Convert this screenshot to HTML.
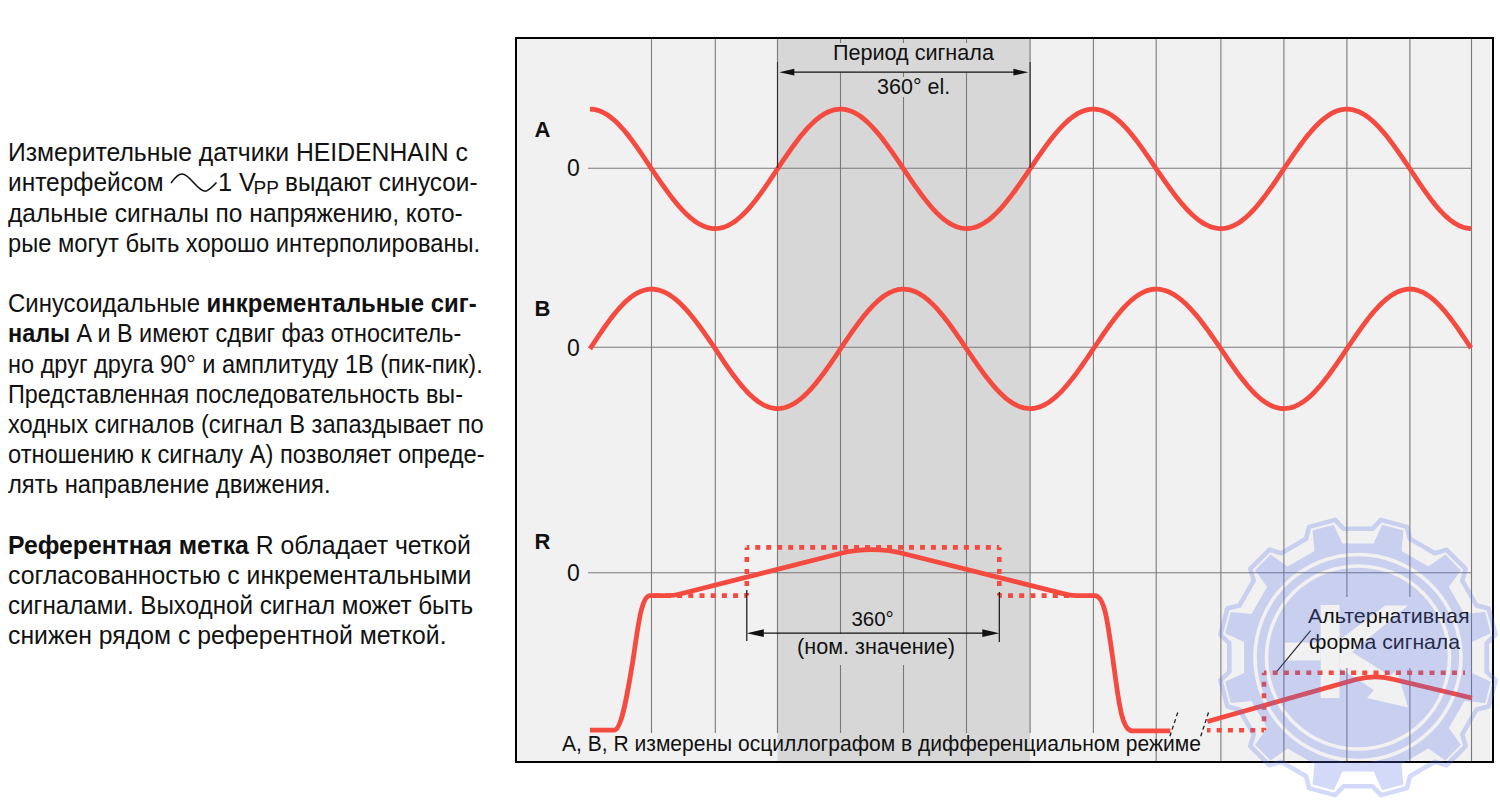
<!DOCTYPE html>
<html><head><meta charset="utf-8"><style>
html,body{margin:0;padding:0;background:#fff;width:1500px;height:800px;overflow:hidden}
svg{position:absolute;left:0;top:0;font-family:"Liberation Sans",sans-serif}
text{fill:#111}
</style></head><body>
<svg width="1500" height="800" viewBox="0 0 1500 800">
<rect x="515" y="37" width="979" height="726" fill="#000"/>
<rect x="517" y="39" width="975" height="722" fill="#f1f1f1"/>
<rect x="777.5" y="39" width="252.6" height="722" fill="#d7d7d7"/>
<line x1="651.5" y1="39" x2="651.5" y2="733" stroke="#7a7a7a" stroke-width="1.1"/>
<line x1="715.3" y1="39" x2="715.3" y2="733" stroke="#7a7a7a" stroke-width="1.1"/>
<line x1="777.5" y1="39" x2="777.5" y2="733" stroke="#7a7a7a" stroke-width="1.1"/>
<line x1="840.5" y1="39" x2="840.5" y2="43" stroke="#7a7a7a" stroke-width="1.1"/>
<line x1="840.5" y1="72" x2="840.5" y2="634" stroke="#7a7a7a" stroke-width="1.1"/>
<line x1="840.5" y1="665" x2="840.5" y2="733" stroke="#7a7a7a" stroke-width="1.1"/>
<line x1="903.5" y1="39" x2="903.5" y2="43" stroke="#7a7a7a" stroke-width="1.1"/>
<line x1="903.5" y1="72" x2="903.5" y2="77" stroke="#7a7a7a" stroke-width="1.1"/>
<line x1="903.5" y1="97" x2="903.5" y2="634" stroke="#7a7a7a" stroke-width="1.1"/>
<line x1="903.5" y1="665" x2="903.5" y2="733" stroke="#7a7a7a" stroke-width="1.1"/>
<line x1="966.5" y1="39" x2="966.5" y2="43" stroke="#7a7a7a" stroke-width="1.1"/>
<line x1="966.5" y1="72" x2="966.5" y2="733" stroke="#7a7a7a" stroke-width="1.1"/>
<line x1="1030.1" y1="39" x2="1030.1" y2="733" stroke="#7a7a7a" stroke-width="1.1"/>
<line x1="1093.4" y1="39" x2="1093.4" y2="733" stroke="#7a7a7a" stroke-width="1.1"/>
<line x1="1156.2" y1="39" x2="1156.2" y2="761" stroke="#7a7a7a" stroke-width="1.1"/>
<line x1="1220.9" y1="39" x2="1220.9" y2="761" stroke="#7a7a7a" stroke-width="1.1"/>
<line x1="1283.9" y1="39" x2="1283.9" y2="761" stroke="#7a7a7a" stroke-width="1.1"/>
<line x1="1346.9" y1="39" x2="1346.9" y2="597" stroke="#7a7a7a" stroke-width="1.1"/>
<line x1="1346.9" y1="668" x2="1346.9" y2="761" stroke="#7a7a7a" stroke-width="1.1"/>
<line x1="1409.9" y1="39" x2="1409.9" y2="597" stroke="#7a7a7a" stroke-width="1.1"/>
<line x1="1409.9" y1="668" x2="1409.9" y2="761" stroke="#7a7a7a" stroke-width="1.1"/>
<line x1="1471.5" y1="39" x2="1471.5" y2="761" stroke="#7a7a7a" stroke-width="1.1"/>
<line x1="588" y1="168.3" x2="1471.5" y2="168.3" stroke="#7a7a7a" stroke-width="1.1"/>
<line x1="588" y1="347.2" x2="1471.5" y2="347.2" stroke="#7a7a7a" stroke-width="1.1"/>
<line x1="588" y1="572.8" x2="1471.5" y2="572.8" stroke="#7a7a7a" stroke-width="1.1"/>
<path d="M590.0,109.15 L592.0,109.23 L594.0,109.46 L596.0,109.85 L598.0,110.39 L600.0,111.09 L602.0,111.93 L604.0,112.93 L606.0,114.07 L608.0,115.35 L610.0,116.77 L612.0,118.33 L614.0,120.02 L616.0,121.84 L618.0,123.78 L620.0,125.83 L622.0,128.00 L624.0,130.28 L626.0,132.66 L628.0,135.13 L630.0,137.69 L632.0,140.33 L634.0,143.05 L636.0,145.83 L638.0,148.67 L640.0,151.57 L642.0,154.51 L644.0,157.48 L646.0,160.49 L648.0,163.52 L650.0,166.56 L652.0,169.58 L654.0,172.52 L656.0,175.45 L658.0,178.36 L660.0,181.25 L662.0,184.11 L664.0,186.93 L666.0,189.71 L668.0,192.44 L670.0,195.11 L672.0,197.72 L674.0,200.26 L676.0,202.72 L678.0,205.10 L680.0,207.39 L682.0,209.58 L684.0,211.68 L686.0,213.68 L688.0,215.56 L690.0,217.34 L692.0,218.99 L694.0,220.53 L696.0,221.94 L698.0,223.22 L700.0,224.36 L702.0,225.38 L704.0,226.25 L706.0,226.99 L708.0,227.59 L710.0,228.04 L712.0,228.35 L714.0,228.52 L716.0,228.54 L718.0,228.41 L720.0,228.13 L722.0,227.70 L724.0,227.11 L726.0,226.38 L728.0,225.51 L730.0,224.48 L732.0,223.32 L734.0,222.02 L736.0,220.58 L738.0,219.01 L740.0,217.31 L742.0,215.49 L744.0,213.54 L746.0,211.49 L748.0,209.32 L750.0,207.06 L752.0,204.69 L754.0,202.24 L756.0,199.70 L758.0,197.08 L760.0,194.38 L762.0,191.63 L764.0,188.81 L766.0,185.95 L768.0,183.04 L770.0,180.09 L772.0,177.12 L774.0,174.12 L776.0,171.11 L778.0,168.11 L780.0,165.13 L782.0,162.17 L784.0,159.22 L786.0,156.29 L788.0,153.40 L790.0,150.54 L792.0,147.73 L794.0,144.98 L796.0,142.28 L798.0,139.65 L800.0,137.09 L802.0,134.61 L804.0,132.21 L806.0,129.91 L808.0,127.70 L810.0,125.60 L812.0,123.60 L814.0,121.71 L816.0,119.95 L818.0,118.30 L820.0,116.78 L822.0,115.39 L824.0,114.13 L826.0,113.01 L828.0,112.03 L830.0,111.18 L832.0,110.49 L834.0,109.93 L836.0,109.53 L838.0,109.27 L840.0,109.15 L842.0,109.19 L844.0,109.38 L846.0,109.71 L848.0,110.19 L850.0,110.82 L852.0,111.59 L854.0,112.50 L856.0,113.55 L858.0,114.74 L860.0,116.07 L862.0,117.52 L864.0,119.11 L866.0,120.82 L868.0,122.64 L870.0,124.58 L872.0,126.64 L874.0,128.79 L876.0,131.05 L878.0,133.40 L880.0,135.84 L882.0,138.36 L884.0,140.95 L886.0,143.62 L888.0,146.35 L890.0,149.13 L892.0,151.97 L894.0,154.84 L896.0,157.75 L898.0,160.69 L900.0,163.65 L902.0,166.62 L904.0,169.59 L906.0,172.57 L908.0,175.53 L910.0,178.48 L912.0,181.41 L914.0,184.30 L916.0,187.16 L918.0,189.97 L920.0,192.72 L922.0,195.42 L924.0,198.05 L926.0,200.61 L928.0,203.09 L930.0,205.49 L932.0,207.79 L934.0,210.00 L936.0,212.10 L938.0,214.10 L940.0,215.99 L942.0,217.75 L944.0,219.40 L946.0,220.92 L948.0,222.31 L950.0,223.57 L952.0,224.69 L954.0,225.67 L956.0,226.52 L958.0,227.21 L960.0,227.77 L962.0,228.17 L964.0,228.43 L966.0,228.55 L968.0,228.51 L970.0,228.33 L972.0,228.00 L974.0,227.53 L976.0,226.91 L978.0,226.16 L980.0,225.26 L982.0,224.23 L984.0,223.06 L986.0,221.76 L988.0,220.33 L990.0,218.77 L992.0,217.10 L994.0,215.30 L996.0,213.39 L998.0,211.38 L1000.0,209.26 L1002.0,207.04 L1004.0,204.72 L1006.0,202.32 L1008.0,199.84 L1010.0,197.28 L1012.0,194.66 L1014.0,191.97 L1016.0,189.22 L1018.0,186.43 L1020.0,183.59 L1022.0,180.71 L1024.0,177.81 L1026.0,174.89 L1028.0,171.95 L1030.0,169.00 L1032.0,166.04 L1034.0,163.08 L1036.0,160.14 L1038.0,157.22 L1040.0,154.33 L1042.0,151.48 L1044.0,148.66 L1046.0,145.90 L1048.0,143.20 L1050.0,140.55 L1052.0,137.98 L1054.0,135.48 L1056.0,133.07 L1058.0,130.74 L1060.0,128.51 L1062.0,126.37 L1064.0,124.35 L1066.0,122.43 L1068.0,120.62 L1070.0,118.94 L1072.0,117.37 L1074.0,115.94 L1076.0,114.63 L1078.0,113.46 L1080.0,112.42 L1082.0,111.52 L1084.0,110.77 L1086.0,110.15 L1088.0,109.69 L1090.0,109.36 L1092.0,109.19 L1094.0,109.16 L1096.0,109.28 L1098.0,109.54 L1100.0,109.96 L1102.0,110.53 L1104.0,111.24 L1106.0,112.09 L1108.0,113.09 L1110.0,114.22 L1112.0,115.50 L1114.0,116.90 L1116.0,118.44 L1118.0,120.10 L1120.0,121.88 L1122.0,123.79 L1124.0,125.80 L1126.0,127.92 L1128.0,130.15 L1130.0,132.47 L1132.0,134.88 L1134.0,137.38 L1136.0,139.95 L1138.0,142.60 L1140.0,145.32 L1142.0,148.09 L1144.0,150.91 L1146.0,153.78 L1148.0,156.69 L1150.0,159.63 L1152.0,162.59 L1154.0,165.57 L1156.0,168.55 L1158.0,171.46 L1160.0,174.35 L1162.0,177.23 L1164.0,180.09 L1166.0,182.92 L1168.0,185.72 L1170.0,188.48 L1172.0,191.19 L1174.0,193.85 L1176.0,196.46 L1178.0,198.99 L1180.0,201.46 L1182.0,203.85 L1184.0,206.15 L1186.0,208.37 L1188.0,210.50 L1190.0,212.52 L1192.0,214.45 L1194.0,216.26 L1196.0,217.97 L1198.0,219.56 L1200.0,221.03 L1202.0,222.37 L1204.0,223.59 L1206.0,224.69 L1208.0,225.65 L1210.0,226.47 L1212.0,227.16 L1214.0,227.71 L1216.0,228.13 L1218.0,228.40 L1220.0,228.54 L1222.0,228.53 L1224.0,228.37 L1226.0,228.07 L1228.0,227.62 L1230.0,227.02 L1232.0,226.28 L1234.0,225.39 L1236.0,224.37 L1238.0,223.21 L1240.0,221.91 L1242.0,220.48 L1244.0,218.92 L1246.0,217.24 L1248.0,215.43 L1250.0,213.51 L1252.0,211.48 L1254.0,209.35 L1256.0,207.11 L1258.0,204.78 L1260.0,202.36 L1262.0,199.85 L1264.0,197.27 L1266.0,194.62 L1268.0,191.90 L1270.0,189.13 L1272.0,186.30 L1274.0,183.44 L1276.0,180.53 L1278.0,177.60 L1280.0,174.65 L1282.0,171.68 L1284.0,168.70 L1286.0,165.73 L1288.0,162.76 L1290.0,159.81 L1292.0,156.87 L1294.0,153.97 L1296.0,151.11 L1298.0,148.29 L1300.0,145.52 L1302.0,142.81 L1304.0,140.17 L1306.0,137.59 L1308.0,135.10 L1310.0,132.68 L1312.0,130.36 L1314.0,128.13 L1316.0,126.01 L1318.0,123.99 L1320.0,122.08 L1322.0,120.29 L1324.0,118.62 L1326.0,117.07 L1328.0,115.66 L1330.0,114.37 L1332.0,113.22 L1334.0,112.21 L1336.0,111.34 L1338.0,110.61 L1340.0,110.03 L1342.0,109.59 L1344.0,109.31 L1346.0,109.17 L1348.0,109.17 L1350.0,109.33 L1352.0,109.63 L1354.0,110.08 L1356.0,110.68 L1358.0,111.42 L1360.0,112.31 L1362.0,113.33 L1364.0,114.49 L1366.0,115.79 L1368.0,117.22 L1370.0,118.78 L1372.0,120.46 L1374.0,122.27 L1376.0,124.19 L1378.0,126.22 L1380.0,128.35 L1382.0,130.59 L1384.0,132.92 L1386.0,135.34 L1388.0,137.85 L1390.0,140.43 L1392.0,143.08 L1394.0,145.80 L1396.0,148.57 L1398.0,151.40 L1400.0,154.26 L1402.0,157.17 L1404.0,160.10 L1406.0,163.05 L1408.0,166.02 L1410.0,169.00 L1412.0,172.05 L1414.0,175.08 L1416.0,178.10 L1418.0,181.09 L1420.0,184.06 L1422.0,186.98 L1424.0,189.86 L1426.0,192.68 L1428.0,195.44 L1430.0,198.13 L1432.0,200.74 L1434.0,203.27 L1436.0,205.71 L1438.0,208.06 L1440.0,210.30 L1442.0,212.44 L1444.0,214.46 L1446.0,216.37 L1448.0,218.15 L1450.0,219.80 L1452.0,221.32 L1454.0,222.70 L1456.0,223.95 L1458.0,225.05 L1460.0,226.00 L1462.0,226.81 L1464.0,227.46 L1466.0,227.96 L1468.0,228.31 L1470.0,228.51 L1471.0,228.55" fill="none" stroke="#f44a40" stroke-width="4.8"/>
<path d="M590.0,348.85 L592.0,345.80 L594.0,342.76 L596.0,339.74 L598.0,336.74 L600.0,333.77 L602.0,330.84 L604.0,327.95 L606.0,325.13 L608.0,322.36 L610.0,319.66 L612.0,317.04 L614.0,314.50 L616.0,312.05 L618.0,309.70 L620.0,307.45 L622.0,305.31 L624.0,303.28 L626.0,301.37 L628.0,299.58 L630.0,297.93 L632.0,296.40 L634.0,295.01 L636.0,293.77 L638.0,292.66 L640.0,291.71 L642.0,290.90 L644.0,290.24 L646.0,289.74 L648.0,289.39 L650.0,289.19 L652.0,289.15 L654.0,289.26 L656.0,289.52 L658.0,289.91 L660.0,290.45 L662.0,291.13 L664.0,291.95 L666.0,292.91 L668.0,294.01 L670.0,295.24 L672.0,296.59 L674.0,298.08 L676.0,299.69 L678.0,301.41 L680.0,303.25 L682.0,305.21 L684.0,307.26 L686.0,309.42 L688.0,311.68 L690.0,314.02 L692.0,316.45 L694.0,318.96 L696.0,321.54 L698.0,324.18 L700.0,326.89 L702.0,329.65 L704.0,332.45 L706.0,335.30 L708.0,338.18 L710.0,341.08 L712.0,344.00 L714.0,346.94 L716.0,349.91 L718.0,352.92 L720.0,355.92 L722.0,358.90 L724.0,361.86 L726.0,364.79 L728.0,367.67 L730.0,370.51 L732.0,373.29 L734.0,376.01 L736.0,378.66 L738.0,381.23 L740.0,383.72 L742.0,386.12 L744.0,388.43 L746.0,390.64 L748.0,392.74 L750.0,394.72 L752.0,396.59 L754.0,398.34 L756.0,399.96 L758.0,401.46 L760.0,402.81 L762.0,404.03 L764.0,405.11 L766.0,406.05 L768.0,406.84 L770.0,407.48 L772.0,407.98 L774.0,408.32 L776.0,408.51 L778.0,408.55 L780.0,408.43 L782.0,408.17 L784.0,407.77 L786.0,407.21 L788.0,406.52 L790.0,405.67 L792.0,404.69 L794.0,403.57 L796.0,402.31 L798.0,400.92 L800.0,399.40 L802.0,397.75 L804.0,395.99 L806.0,394.10 L808.0,392.10 L810.0,390.00 L812.0,387.79 L814.0,385.49 L816.0,383.09 L818.0,380.61 L820.0,378.05 L822.0,375.42 L824.0,372.72 L826.0,369.97 L828.0,367.16 L830.0,364.30 L832.0,361.41 L834.0,358.48 L836.0,355.53 L838.0,352.57 L840.0,349.59 L842.0,346.62 L844.0,343.65 L846.0,340.69 L848.0,337.75 L850.0,334.84 L852.0,331.97 L854.0,329.13 L856.0,326.35 L858.0,323.62 L860.0,320.95 L862.0,318.36 L864.0,315.84 L866.0,313.40 L868.0,311.05 L870.0,308.79 L872.0,306.64 L874.0,304.58 L876.0,302.64 L878.0,300.82 L880.0,299.11 L882.0,297.52 L884.0,296.07 L886.0,294.74 L888.0,293.55 L890.0,292.50 L892.0,291.59 L894.0,290.82 L896.0,290.19 L898.0,289.71 L900.0,289.38 L902.0,289.19 L904.0,289.15 L906.0,289.27 L908.0,289.53 L910.0,289.93 L912.0,290.49 L914.0,291.18 L916.0,292.03 L918.0,293.01 L920.0,294.13 L922.0,295.39 L924.0,296.78 L926.0,298.30 L928.0,299.95 L930.0,301.71 L932.0,303.60 L934.0,305.60 L936.0,307.70 L938.0,309.91 L940.0,312.21 L942.0,314.61 L944.0,317.09 L946.0,319.65 L948.0,322.28 L950.0,324.98 L952.0,327.73 L954.0,330.54 L956.0,333.40 L958.0,336.29 L960.0,339.22 L962.0,342.17 L964.0,345.13 L966.0,348.11 L968.0,351.06 L970.0,354.00 L972.0,356.93 L974.0,359.85 L976.0,362.73 L978.0,365.58 L980.0,368.39 L982.0,371.15 L984.0,373.86 L986.0,376.50 L988.0,379.08 L990.0,381.59 L992.0,384.01 L994.0,386.35 L996.0,388.60 L998.0,390.75 L1000.0,392.80 L1002.0,394.74 L1004.0,396.57 L1006.0,398.28 L1008.0,399.88 L1010.0,401.34 L1012.0,402.68 L1014.0,403.89 L1016.0,404.97 L1018.0,405.90 L1020.0,406.70 L1022.0,407.36 L1024.0,407.87 L1026.0,408.24 L1028.0,408.47 L1030.0,408.55 L1032.0,408.48 L1034.0,408.27 L1036.0,407.91 L1038.0,407.41 L1040.0,406.76 L1042.0,405.97 L1044.0,405.03 L1046.0,403.96 L1048.0,402.76 L1050.0,401.42 L1052.0,399.95 L1054.0,398.35 L1056.0,396.64 L1058.0,394.80 L1060.0,392.86 L1062.0,390.80 L1064.0,388.64 L1066.0,386.39 L1068.0,384.04 L1070.0,381.60 L1072.0,379.08 L1074.0,376.49 L1076.0,373.83 L1078.0,371.11 L1080.0,368.34 L1082.0,365.51 L1084.0,362.65 L1086.0,359.75 L1088.0,356.83 L1090.0,353.88 L1092.0,350.92 L1094.0,347.95 L1096.0,344.97 L1098.0,342.00 L1100.0,339.04 L1102.0,336.11 L1104.0,333.21 L1106.0,330.34 L1108.0,327.53 L1110.0,324.77 L1112.0,322.07 L1114.0,319.43 L1116.0,316.87 L1118.0,314.39 L1120.0,312.00 L1122.0,309.69 L1124.0,307.49 L1126.0,305.39 L1128.0,303.40 L1130.0,301.52 L1132.0,299.76 L1134.0,298.12 L1136.0,296.61 L1138.0,295.23 L1140.0,293.98 L1142.0,292.88 L1144.0,291.91 L1146.0,291.08 L1148.0,290.40 L1150.0,289.87 L1152.0,289.48 L1154.0,289.24 L1156.0,289.15 L1158.0,289.21 L1160.0,289.40 L1162.0,289.74 L1164.0,290.22 L1166.0,290.83 L1168.0,291.58 L1170.0,292.47 L1172.0,293.49 L1174.0,294.64 L1176.0,295.92 L1178.0,297.32 L1180.0,298.84 L1182.0,300.48 L1184.0,302.24 L1186.0,304.10 L1188.0,306.08 L1190.0,308.15 L1192.0,310.32 L1194.0,312.57 L1196.0,314.92 L1198.0,317.34 L1200.0,319.84 L1202.0,322.41 L1204.0,325.04 L1206.0,327.72 L1208.0,330.46 L1210.0,333.24 L1212.0,336.05 L1214.0,338.90 L1216.0,341.76 L1218.0,344.65 L1220.0,347.55 L1222.0,350.49 L1224.0,353.46 L1226.0,356.42 L1228.0,359.36 L1230.0,362.28 L1232.0,365.16 L1234.0,368.00 L1236.0,370.80 L1238.0,373.54 L1240.0,376.22 L1242.0,378.83 L1244.0,381.36 L1246.0,383.82 L1248.0,386.19 L1250.0,388.46 L1252.0,390.64 L1254.0,392.71 L1256.0,394.68 L1258.0,396.53 L1260.0,398.26 L1262.0,399.87 L1264.0,401.35 L1266.0,402.70 L1268.0,403.92 L1270.0,405.00 L1272.0,405.94 L1274.0,406.74 L1276.0,407.40 L1278.0,407.91 L1280.0,408.27 L1282.0,408.48 L1284.0,408.55 L1286.0,408.47 L1288.0,408.24 L1290.0,407.86 L1292.0,407.34 L1294.0,406.67 L1296.0,405.85 L1298.0,404.90 L1300.0,403.80 L1302.0,402.57 L1304.0,401.21 L1306.0,399.71 L1308.0,398.09 L1310.0,396.35 L1312.0,394.49 L1314.0,392.51 L1316.0,390.43 L1318.0,388.24 L1320.0,385.96 L1322.0,383.58 L1324.0,381.11 L1326.0,378.57 L1328.0,375.95 L1330.0,373.27 L1332.0,370.52 L1334.0,367.72 L1336.0,364.88 L1338.0,361.99 L1340.0,359.07 L1342.0,356.13 L1344.0,353.16 L1346.0,350.19 L1348.0,347.21 L1350.0,344.24 L1352.0,341.28 L1354.0,338.34 L1356.0,335.42 L1358.0,332.54 L1360.0,329.70 L1362.0,326.90 L1364.0,324.16 L1366.0,321.48 L1368.0,318.87 L1370.0,316.34 L1372.0,313.88 L1374.0,311.51 L1376.0,309.24 L1378.0,307.06 L1380.0,304.99 L1382.0,303.02 L1384.0,301.17 L1386.0,299.44 L1388.0,297.83 L1390.0,296.35 L1392.0,295.00 L1394.0,293.78 L1396.0,292.70 L1398.0,291.76 L1400.0,290.96 L1402.0,290.30 L1404.0,289.79 L1406.0,289.43 L1408.0,289.22 L1410.0,289.15 L1412.0,289.24 L1414.0,289.48 L1416.0,289.87 L1418.0,290.42 L1420.0,291.12 L1422.0,291.97 L1424.0,292.97 L1426.0,294.11 L1428.0,295.40 L1430.0,296.82 L1432.0,298.38 L1434.0,300.07 L1436.0,301.89 L1438.0,303.83 L1440.0,305.89 L1442.0,308.06 L1444.0,310.33 L1446.0,312.71 L1448.0,315.18 L1450.0,317.73 L1452.0,320.37 L1454.0,323.08 L1456.0,325.86 L1458.0,328.70 L1460.0,331.59 L1462.0,334.53 L1464.0,337.50 L1466.0,340.50 L1468.0,343.53 L1470.0,346.57 L1471.0,348.09" fill="none" stroke="#f44a40" stroke-width="4.8"/>
<path d="M590,730.2 L614,730.2 C622,730.2 628,690 633,660 C638,628 641,596 650,595.6 L668,595.6 Q674,595.6 680,594 L840,553.5 Q873,545.5 906,554.2 L1064,593.8 Q1070,595.6 1076,595.6 L1095,595.6 C1105,596 1108,625 1113,660 C1118,695 1121,730.8 1132,730.8 L1170.3,730.8" fill="none" stroke="#f44a40" stroke-width="4.8" stroke-linejoin="round"/>
<path d="M746.8,595.6 L651,595.6" fill="none" stroke="#f44a40" stroke-width="4.6" stroke-dasharray="5 6.200" stroke-dashoffset="2.5"/>
<path d="M746.8,595.6 L746.8,547.4" fill="none" stroke="#f44a40" stroke-width="4.6" stroke-dasharray="5 7.050" stroke-dashoffset="2.5"/>
<path d="M746.8,547.4 L999.3,547.4" fill="none" stroke="#f44a40" stroke-width="4.6" stroke-dasharray="5 5.978" stroke-dashoffset="2.5"/>
<path d="M999.3,547.4 L999.3,595.6" fill="none" stroke="#f44a40" stroke-width="4.6" stroke-dasharray="5 7.050" stroke-dashoffset="2.5"/>
<path d="M999.3,595.6 L1072,595.6" fill="none" stroke="#f44a40" stroke-width="4.6" stroke-dasharray="5 6.200" stroke-dashoffset="2.5"/>
<path d="M1207.4,721.5 L1356,679.5 Q1374,674.5 1392,679 L1472,698" fill="none" stroke="#f44a40" stroke-width="4.8"/>
<path d="M1264,730.3 L1207,730.3" fill="none" stroke="#f44a40" stroke-width="4.6" stroke-dasharray="5 6.200" stroke-dashoffset="2.5"/>
<path d="M1264,730.3 L1264,672.8" fill="none" stroke="#f44a40" stroke-width="4.6" stroke-dasharray="5 6.500" stroke-dashoffset="2.5"/>
<path d="M1264,672.8 L1465,672.8" fill="none" stroke="#f44a40" stroke-width="4.6" stroke-dasharray="5 6.200" stroke-dashoffset="2.5"/>
<line x1="1177.75" y1="712.5" x2="1169.1" y2="738.75" stroke="#222" stroke-width="1.3" stroke-dasharray="4 3"/>
<line x1="1208.5" y1="712.5" x2="1199.9" y2="738.75" stroke="#222" stroke-width="1.3" stroke-dasharray="4 3"/>
<line x1="1310.6" y1="630.6" x2="1276.9" y2="671.3" stroke="#222" stroke-width="1.1"/>
<line x1="789.3" y1="72.2" x2="1018.4000000000001" y2="72.2" stroke="#111" stroke-width="1.2"/>
<path d="M779.3,72.2 L794.3,68.8 L794.3,75.60000000000001 Z" fill="#111"/>
<path d="M1028.4,72.2 L1013.4000000000001,68.8 L1013.4000000000001,75.60000000000001 Z" fill="#111"/>
<line x1="777.5" y1="62" x2="777.5" y2="168" stroke="#2a2a2a" stroke-width="1.1"/>
<line x1="1030.1" y1="62" x2="1030.1" y2="168" stroke="#2a2a2a" stroke-width="1.1"/>
<line x1="756.8" y1="633.2" x2="989.3" y2="633.2" stroke="#111" stroke-width="1.2"/>
<path d="M746.8,633.2 L763.8,629.3000000000001 L763.8,637.1 Z" fill="#111"/>
<path d="M999.3,633.2 L982.3,629.3000000000001 L982.3,637.1 Z" fill="#111"/>
<line x1="746.8" y1="590" x2="746.8" y2="641" stroke="#111" stroke-width="1.2"/>
<line x1="999.3" y1="592" x2="999.3" y2="642" stroke="#111" stroke-width="1.2"/>
<text x="913.4" y="60" font-size="21.6" font-weight="normal" text-anchor="middle" fill="#111">Период сигнала</text>
<text x="913.6" y="93.8" font-size="21.5" font-weight="normal" text-anchor="middle" fill="#111">360° el.</text>
<text x="872.6" y="625.7" font-size="20.5" font-weight="normal" text-anchor="middle" fill="#111">360°</text>
<text x="876" y="653.7" font-size="21.6" font-weight="normal" text-anchor="middle" fill="#111">(ном. значение)</text>
<text x="534.5" y="137" font-size="22" font-weight="bold" text-anchor="start" fill="#111">A</text>
<text x="534.5" y="315.5" font-size="22" font-weight="bold" text-anchor="start" fill="#111">B</text>
<text x="534.5" y="548.6" font-size="22" font-weight="bold" text-anchor="start" fill="#111">R</text>
<text x="567" y="176" font-size="23" font-weight="normal" text-anchor="start" fill="#111">0</text>
<text x="567" y="355.5" font-size="23" font-weight="normal" text-anchor="start" fill="#111">0</text>
<text x="567" y="581" font-size="23" font-weight="normal" text-anchor="start" fill="#111">0</text>
<text x="562" y="751" font-size="22.6" font-weight="normal" text-anchor="start" fill="#111" textLength="639" lengthAdjust="spacingAndGlyphs">A, B, R измерены осциллографом в дифференциальном режиме</text>
<text x="1308" y="623" font-size="21" font-weight="normal" text-anchor="start" fill="#111" textLength="161.5" lengthAdjust="spacingAndGlyphs">Альтернативная</text>
<text x="1309" y="649" font-size="21" font-weight="normal" text-anchor="start" fill="#111" textLength="151" lengthAdjust="spacingAndGlyphs">форма сигнала</text>
<text x="8" y="161.30" font-size="25.2" textLength="459.76" lengthAdjust="spacingAndGlyphs"><tspan font-weight="normal">Измерительные датчики HEIDENHAIN с</tspan></text>
<text x="8" y="191.49" font-size="25.2" textLength="155.7" lengthAdjust="spacingAndGlyphs">интерфейсом</text>
<path d="M171,183 C176,176 179,174 182,174 C190,174 197,191 205,191.2 C209,191.2 213,186 216.5,182.5" fill="none" stroke="#111" stroke-width="1.6"/>
<text x="218" y="191.49" font-size="25.2">1 V</text>
<text x="253.5" y="194.49" font-size="19">PP</text>
<text x="285" y="191.49" font-size="25.2" textLength="192.5" lengthAdjust="spacingAndGlyphs">выдают синусои-</text>
<text x="8" y="221.68" font-size="25.2" textLength="454.7" lengthAdjust="spacingAndGlyphs"><tspan font-weight="normal">дальные сигналы по напряжению, кото-</tspan></text>
<text x="8" y="251.87" font-size="25.2" textLength="472.18" lengthAdjust="spacingAndGlyphs"><tspan font-weight="normal">рые могут быть хорошо интерполированы.</tspan></text>
<text x="8" y="312.25" font-size="25.2" textLength="468.68" lengthAdjust="spacingAndGlyphs"><tspan font-weight="normal">Синусоидальные </tspan><tspan font-weight="bold">инкрементальные сиг-</tspan></text>
<text x="8" y="342.44" font-size="25.2" textLength="453.22" lengthAdjust="spacingAndGlyphs"><tspan font-weight="bold">налы</tspan><tspan font-weight="normal"> A и B имеют сдвиг фаз относитель-</tspan></text>
<text x="8" y="372.63" font-size="25.2" textLength="474.7" lengthAdjust="spacingAndGlyphs"><tspan font-weight="normal">но друг друга 90° и амплитуду 1В (пик-пик).</tspan></text>
<text x="8" y="402.82" font-size="25.2" textLength="454.92" lengthAdjust="spacingAndGlyphs"><tspan font-weight="normal">Представленная последовательность вы-</tspan></text>
<text x="8" y="433.01" font-size="25.2" textLength="475.77" lengthAdjust="spacingAndGlyphs"><tspan font-weight="normal">ходных сигналов (сигнал B запаздывает по</tspan></text>
<text x="8" y="463.20" font-size="25.2" textLength="476.56" lengthAdjust="spacingAndGlyphs"><tspan font-weight="normal">отношению к сигналу A) позволяет опреде-</tspan></text>
<text x="8" y="493.39" font-size="25.2" textLength="322.58" lengthAdjust="spacingAndGlyphs"><tspan font-weight="normal">лять направление движения.</tspan></text>
<text x="8" y="553.77" font-size="25.2" textLength="462.84" lengthAdjust="spacingAndGlyphs"><tspan font-weight="bold">Референтная метка</tspan><tspan font-weight="normal"> R обладает четкой</tspan></text>
<text x="8" y="583.96" font-size="25.2" textLength="463.38" lengthAdjust="spacingAndGlyphs"><tspan font-weight="normal">согласованностью с инкрементальными</tspan></text>
<text x="8" y="614.15" font-size="25.2" textLength="465.13" lengthAdjust="spacingAndGlyphs"><tspan font-weight="normal">сигналами. Выходной сигнал может быть</tspan></text>
<text x="8" y="644.34" font-size="25.2" textLength="438.59" lengthAdjust="spacingAndGlyphs"><tspan font-weight="normal">снижен рядом с референтной меткой.</tspan></text>
<defs><mask id="wmk" maskUnits="userSpaceOnUse" x="1150" y="450" width="400" height="400"><path d="M1471.94,641.94 L1490.81,633.29 L1485.12,612.06 L1464.46,614.00 L1448.90,587.05 L1460.91,570.13 L1445.37,554.59 L1428.45,566.60 L1401.50,551.04 L1403.44,530.38 L1382.21,524.69 L1373.56,543.56 L1342.44,543.56 L1333.79,524.69 L1312.56,530.38 L1314.50,551.04 L1287.55,566.60 L1270.63,554.59 L1255.09,570.13 L1267.10,587.05 L1251.54,614.00 L1230.88,612.06 L1225.19,633.29 L1244.06,641.94 L1244.06,673.06 L1225.19,681.71 L1230.88,702.94 L1251.54,701.00 L1267.10,727.95 L1255.09,744.87 L1270.63,760.41 L1287.55,748.40 L1314.50,763.96 L1312.56,784.62 L1333.79,790.31 L1342.44,771.44 L1373.56,771.44 L1382.21,790.31 L1403.44,784.62 L1401.50,763.96 L1428.45,748.40 L1445.37,760.41 L1460.91,744.87 L1448.90,727.95 L1464.46,701.00 L1485.12,702.94 L1490.81,681.71 L1471.94,673.06 Z" fill="#fff"/><path d="M1486.70,643.13 L1495.60,634.58 L1488.63,608.54 L1476.64,605.60 L1462.27,580.70 L1465.71,568.85 L1446.65,549.79 L1434.80,553.23 L1409.90,538.86 L1406.96,526.87 L1380.92,519.90 L1372.37,528.80 L1343.63,528.80 L1335.08,519.90 L1309.04,526.87 L1306.10,538.86 L1281.20,553.23 L1269.35,549.79 L1250.29,568.85 L1253.73,580.70 L1239.36,605.60 L1227.37,608.54 L1220.40,634.58 L1229.30,643.13 L1229.30,671.87 L1220.40,680.42 L1227.37,706.46 L1239.36,709.40 L1253.73,734.30 L1250.29,746.15 L1269.35,765.21 L1281.20,761.77 L1306.10,776.14 L1309.04,788.13 L1335.08,795.10 L1343.63,786.20 L1372.37,786.20 L1380.92,795.10 L1406.96,788.13 L1409.90,776.14 L1434.80,761.77 L1446.65,765.21 L1465.71,746.15 L1462.27,734.30 L1476.64,709.40 L1488.63,706.46 L1495.60,680.42 L1486.70,671.87 Z" fill="none" stroke="#fff" stroke-width="4.6" stroke-linejoin="round"/><circle cx="1358" cy="657.5" r="103" fill="none" stroke="#000" stroke-width="3.6"/><circle cx="1358" cy="657.5" r="91.5" fill="none" stroke="#000" stroke-width="3.6"/><rect x="1320.7" y="605" width="18.8" height="93" fill="#000"/><rect x="1284.7" y="642.5" width="36" height="18" fill="#000"/><path d="M1339.5,640 L1385.3,605.4 L1408,605.4 L1352,652 L1339.5,660 Z" fill="#000"/><path d="M1339.5,660 L1352,652 L1390,676 L1397,670 L1408,707.5 L1367,698 L1374,690 L1339.5,668 Z" fill="#000"/></mask></defs>
<rect x="1150" y="450" width="400" height="400" fill="rgb(90,112,232)" opacity="0.26" mask="url(#wmk)"/>
</svg>
</body></html>
